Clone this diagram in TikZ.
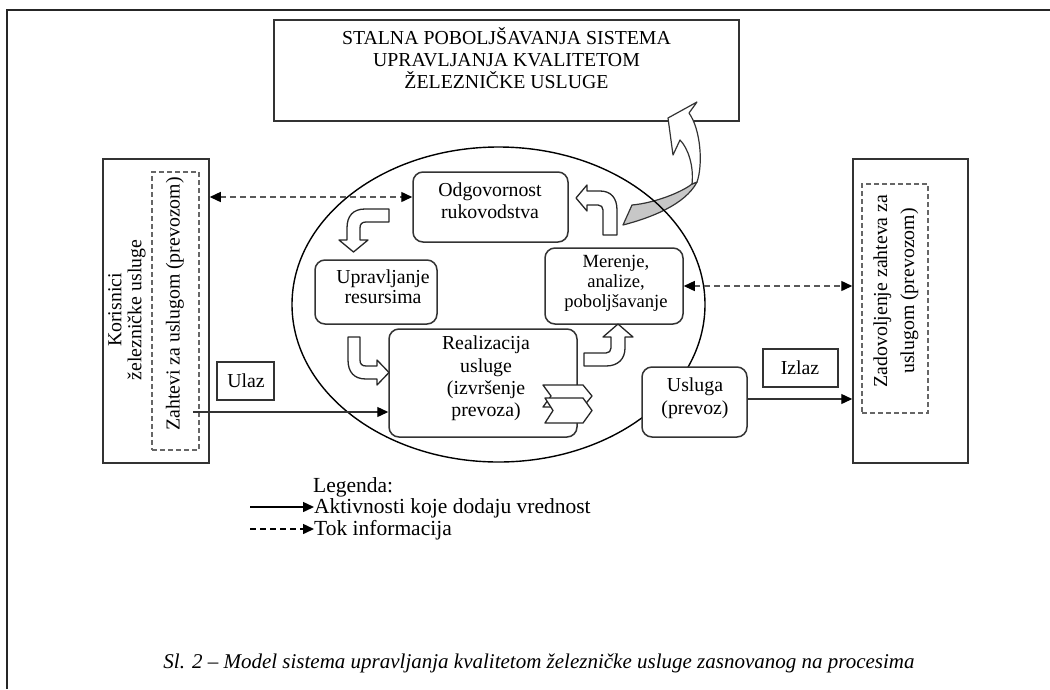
\documentclass[tikz,border=0pt]{standalone}
\usepackage{fontspec}
\setmainfont{Liberation Serif}
\usetikzlibrary{arrows.meta,shapes.geometric}
\begin{document}
\begin{tikzpicture}[x=1pt,y=-1pt,
  txt/.style={font=\fontsize{19.8}{22}\selectfont, align=center, inner sep=0pt},
  smalltxt/.style={font=\fontsize{18.6}{20}\selectfont, align=center, inner sep=0pt},
  legtxt/.style={font=\fontsize{21.5}{23}\selectfont, anchor=west, inner sep=0pt},
  sqbox/.style={draw=black!80, line width=1.5pt, fill=white, inner sep=0pt},
  rbox/.style={sqbox, rounded corners=10pt},
  dbox/.style={draw=black!60, line width=1.1pt, dash pattern=on 5pt off 3pt, inner sep=0pt},
  infoarrow/.style={draw=black!65, line width=1.4pt, dash pattern=on 6pt off 4pt,
     {Triangle[length=11pt,width=10pt,color=black]}-{Triangle[length=11pt,width=10pt,color=black]}},
  flowarrow/.style={draw=black!80, line width=1.3pt, -{Triangle[length=11pt,width=10pt,color=black]}},
  legsolid/.style={draw=black, line width=1.5pt, -{Triangle[length=11pt,width=10pt]}},
  legdash/.style={draw=black, line width=1.5pt, dash pattern=on 6pt off 4pt, -{Triangle[length=11pt,width=10pt]}},
  blockarrow/.style={draw=black!85, line width=1.3pt, fill=white, line join=round},
  bigarrow/.style={draw=black!80, line width=1.2pt, line join=round}
]
\useasboundingbox (0,0) rectangle (1050,689);
% frame
\draw[line width=1.6pt, draw=black!85] (7,689) -- (7,10) -- (1050,10);

% top box
\node[sqbox, minimum width=465pt, minimum height=101pt] (top) at (506.5,70.5) {};
\node[txt] (toptxt) at (506.5,58.5) {STALNA POBOLJŠAVANJA SISTEMA\\UPRAVLJANJA KVALITETOM\\ŽELEZNIČKE USLUGE};

% big curved arrow
\draw[bigarrow, fill=black!22] (623,225) .. controls (650,218) and (685,205) .. (697,182)
   -- (692,184) .. controls (682,192) and (655,203) .. (632,205) -- cycle;
\draw[bigarrow, fill=white] (697,182) .. controls (703,165) and (701,130) .. (689,113)
   -- (697,102) -- (668,118) -- (673,155) -- (680,140)
   .. controls (688,148) and (694,166) .. (692,184) -- cycle;

% ellipse
\node[draw=black, line width=1.4pt, ellipse, minimum width=413pt, minimum height=315pt, inner sep=0pt] (ell) at (498.5,304.5) {};

% left and right boxes
\node[sqbox, minimum width=106pt, minimum height=304pt] (lbox) at (156,311) {};
\node[dbox, minimum width=47pt, minimum height=278pt] (ldash) at (175.5,311) {};
\node[txt, rotate=90, font=\fontsize{19.8}{20}\selectfont] (ltxt) at (127,310) {Korisnici\\železničke usluge};
\node[txt, rotate=90] (ldtxt) at (175,304) {Zahtevi za uslugom (prevozom)};

\node[sqbox, minimum width=115pt, minimum height=304pt] (rbox) at (910.5,311) {};
\node[dbox, minimum width=66pt, minimum height=229pt] (rdash) at (895,298.5) {};
\node[txt, rotate=90, font=\fontsize{19.8}{27}\selectfont] (rtxt) at (896,291) {Zadovoljenje zahteva za\\uslugom (prevozom)};

% inner boxes
\node[rbox, minimum width=155pt, minimum height=70pt] (odg) at (490.5,207) {};
\node[txt] (odgt) at (490,201) {Odgovornost\\rukovodstva};
\node[rbox, minimum width=122pt, minimum height=64pt] (upr) at (376,292) {};
\node[txt, font=\fontsize{19.8}{20}\selectfont] (uprt) at (383,287) {Upravljanje\\resursima};
\node[rbox, minimum width=188pt, minimum height=108pt] (real) at (483,383) {};
\node[txt, font=\fontsize{19.8}{22.3}\selectfont] (realt) at (486,378.5) {Realizacija\\usluge\\(izvršenje\\prevoza)};
\node[rbox, minimum width=138pt, minimum height=76pt] (mer) at (614,286) {};
\node[smalltxt] (mert) at (616,283) {Merenje,\\analize,\\poboljšavanje};
\node[rbox, minimum width=105pt, minimum height=70pt] (usl) at (694.5,402) {};
\node[txt, font=\fontsize{19.8}{23}\selectfont] (uslt) at (695,398.5) {Usluga\\(prevoz)};

% ulaz / izlaz
\node[sqbox, line width=1.3pt, minimum width=57pt, minimum height=38pt] (ulaz) at (245.5,381) {};
\node[txt] (ulazt) at (246,381) {Ulaz};
\node[sqbox, line width=1.3pt, minimum width=75pt, minimum height=38pt] (izlaz) at (800.5,368) {};
\node[txt] (izlazt) at (800,368) {Izlaz};

% chevrons on realizacija
\draw[blockarrow] (543,385) -- (583,385) -- (592,396) -- (583,407) -- (543,407) -- (551,396) -- cycle;
\draw[blockarrow] (545,398) -- (583,398) -- (592,410.5) -- (583,423) -- (545,423) -- (553,410.5) -- cycle;

% block arrows
\draw[blockarrow] (617,235) -- (617,210) .. controls (617,198) and (611,191) .. (600,191) -- (587,191)
   -- (587,185) -- (576,198) -- (587,211) -- (587,205) -- (598,205)
   .. controls (601,205) and (603,207) .. (603,210) -- (603,235) -- cycle;
\draw[blockarrow] (389,209) -- (365,209) .. controls (353,209) and (347,216) .. (347,228) -- (347,240)
   -- (339,240) -- (353.5,252) -- (368,240) -- (360,240) -- (360,228)
   .. controls (360,224) and (362,222) .. (366,222) -- (389,222) -- cycle;
\draw[blockarrow] (348,337) -- (348,360) .. controls (348,372) and (354,379) .. (366,379) -- (377,379)
   -- (377,385) -- (389,372.5) -- (377,360) -- (377,366) -- (366,366)
   .. controls (362,366) and (360,364) .. (360,360) -- (360,337) -- cycle;
\draw[blockarrow] (584,353) -- (606,353) .. controls (609,353) and (611,351) .. (611,348) -- (611,337)
   -- (603,337) -- (618,324) -- (633,337) -- (625,337) -- (625,348)
   .. controls (625,359) and (618,366) .. (606,366) -- (584,366) -- cycle;

% connectors
\coordinate (odgin) at ([yshift=10pt]odg.west);
\draw[infoarrow] (lbox.east |- odgin) -- (odgin);
\draw[infoarrow] (mer.east) -- (rbox.west |- mer.east);
\coordinate (inl) at (193,412);
\draw[flowarrow] (inl) -- (real.west |- inl);
\coordinate (uslout) at ([yshift=3pt]usl.east);
\draw[flowarrow] (uslout) -- (rbox.west |- uslout);

% legend
\node[legtxt] (leg) at (313,487) {Legenda:};
\node[legtxt] (leg1) at (314,508) {Aktivnosti koje dodaju vrednost};
\node[legtxt] (leg2) at (314,530) {Tok informacija};
\coordinate (la) at (250,507);
\coordinate (lb) at (250,529);
\draw[legsolid] (la) -- (leg1.west |- la);
\draw[legdash] (lb) -- (leg2.west |- lb);

% caption
\node[font=\fontsize{21}{23}\itshape\selectfont, inner sep=0pt] (cap) at (539,663)
  {Sl. 2 – Model sistema upravljanja kvalitetom železničke usluge zasnovanog na procesima};
\end{tikzpicture}
\end{document}
